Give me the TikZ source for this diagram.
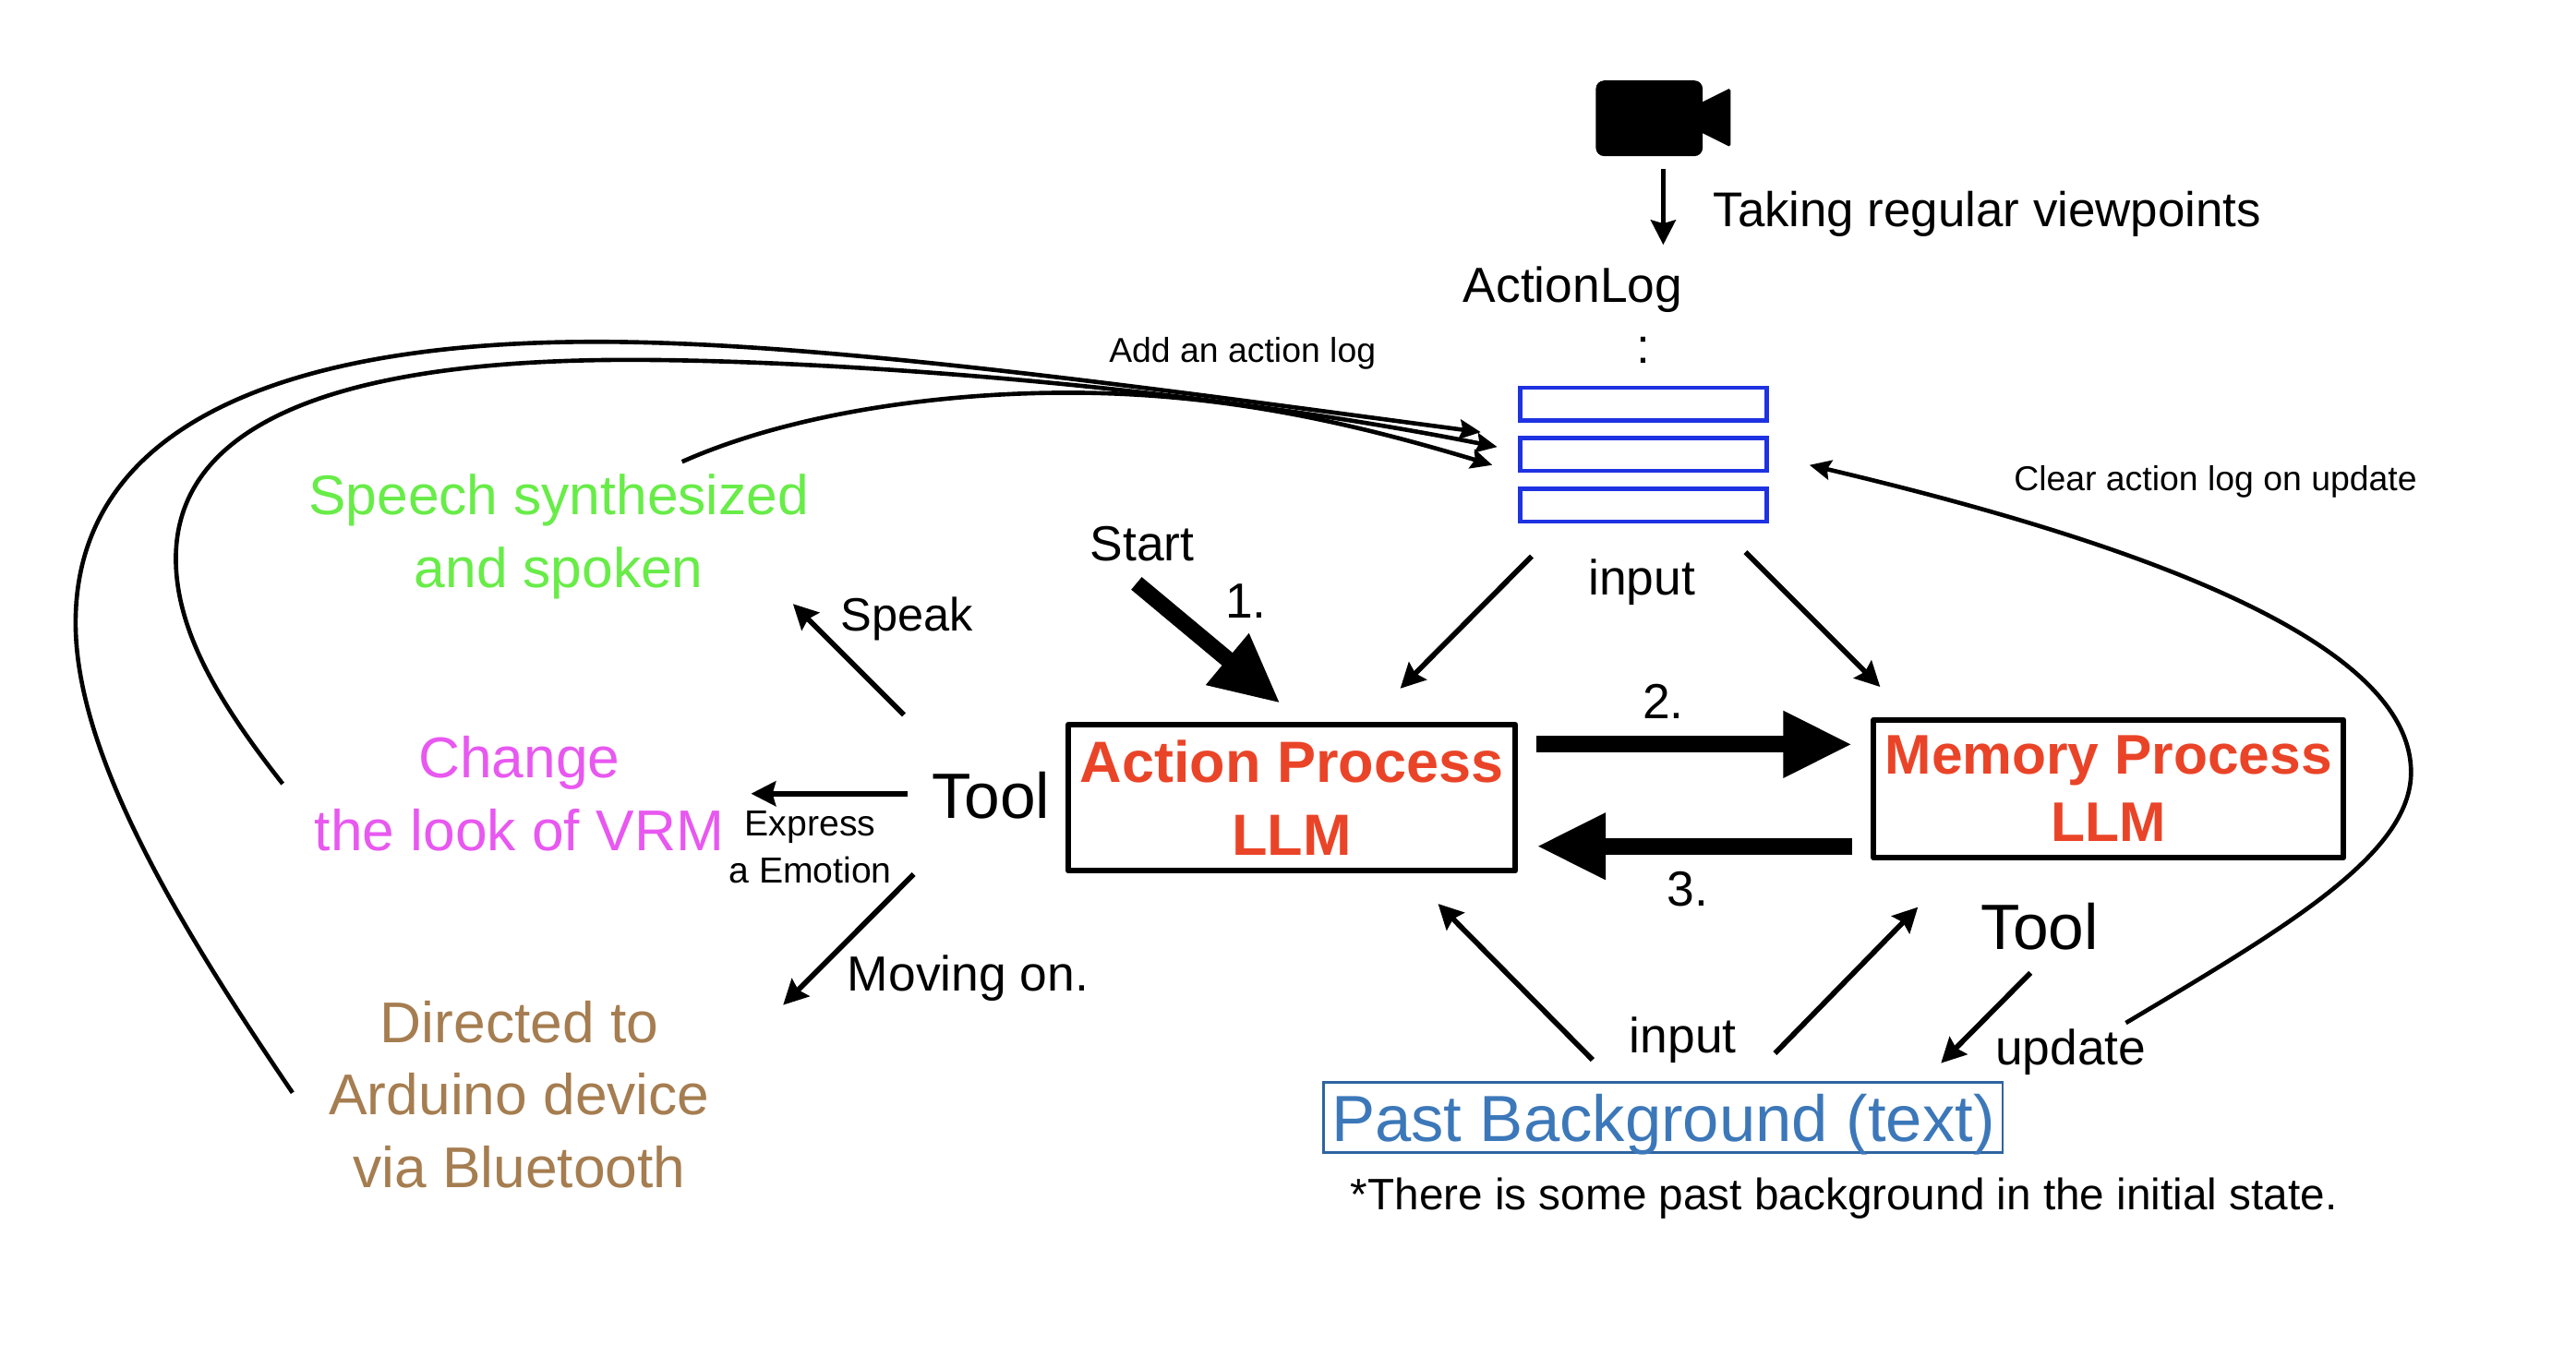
\documentclass[tikz,border=0pt]{standalone}
\usepackage{fontspec}
\setmainfont{Liberation Sans}
\usetikzlibrary{arrows.meta}
\definecolor{speechgreen}{RGB}{104,236,72}
\definecolor{vrmpink}{RGB}{232,88,240}
\definecolor{arduinobrown}{RGB}{165,125,80}
\definecolor{llmred}{RGB}{234,68,40}
\definecolor{logblue}{RGB}{30,50,225}
\definecolor{pastblue}{RGB}{60,120,185}
\definecolor{pastframe}{RGB}{45,100,160}
\tikzset{
	thinarrow/.style={line width=1.6pt, -{Stealth[length=7.5pt, width=7.5pt, inset=1pt]}},
	thickarrow/.style={line width=5pt, -{Triangle[length=21pt, width=19pt]}},
	curvearrow/.style={line width=1.3pt, -{Stealth[length=6.5pt, width=6pt, inset=1pt]}},
	textlabel/.style={inner sep=0pt, align=center, font=\fontsize{15}{22}\selectfont},
	smalllabel/.style={inner sep=0pt, align=center, font=\fontsize{10.5}{14}\selectfont},
	toollabel/.style={inner sep=0pt, font=\fontsize{19.5}{24}\selectfont},
	outcome/.style={inner sep=0pt, align=center, font=\fontsize{17.5}{22}\selectfont},
	llmbox/.style={draw, line width=1.7pt, line join=round, inner sep=0pt, align=center, text=llmred, font=\bfseries\fontsize{17.7}{22}\selectfont},
	logslot/.style={draw=logblue, line width=1.25pt, minimum width=75pt, minimum height=10pt, inner sep=0pt},
}
\begin{document}
\begin{tikzpicture}[x=0.5pt, y=-0.5pt]
	\useasboundingbox (0, 0) rectangle (1567.4, 825.8);

	\node [fill, rounded corners=2.5pt, minimum width=32.5pt, minimum height=23pt, inner sep=0pt] (camera) at (1003.5, 72) {};
	\fill (1036, 62) -- (1052, 54) -- (1053, 55) -- (1053, 88) -- (1052, 89) -- (1036, 81) -- cycle;
	\node [textlabel, anchor=west, font=\fontsize{14.85}{22}\selectfont] (viewpoints) at (1042, 130) {Taking regular viewpoints};
	\node [textlabel] (actionlog) at (957, 176) {ActionLog};
	\node [textlabel] (dots) at (1000, 213) {:};
	\node [logslot] (loga) at (1000, 246) {};
	\node [logslot] (logb) at (1000, 276.5) {};
	\node [logslot] (logc) at (1000, 307.5) {};
	\node [smalllabel] (addlog) at (756, 215) {Add an action log};
	\node [smalllabel] (clearlog) at (1348, 293) {Clear action log on update};
	\node [textlabel] (logInput) at (999, 354.5) {input};
	\node [textlabel] (start) at (695, 331) {Start};
	\node [textlabel] (one) at (758, 366) {1.};
	\node [textlabel] (two) at (1012, 427) {2.};
	\node [textlabel] (three) at (1027, 541) {3.};

	\node [llmbox, minimum width=136pt, minimum height=44.5pt] (action) at (786, 485.5) {Action Process\\LLM};
	\node [llmbox, minimum width=143pt, minimum height=42pt, font=\bfseries\fontsize{17}{20.5}\selectfont] (memory) at (1283, 480) {Memory Process\\LLM};

	\node [toollabel] (toolleft) at (603, 484) {Tool};
	\node [toollabel] (toolright) at (1241, 564) {Tool};
	\node [textlabel, font=\fontsize{14.2}{22}\selectfont] (speak) at (552, 376.5) {Speak};
	\node [smalllabel, font=\fontsize{11}{14}\selectfont] (express) at (493, 515.5) {Express\\[0.5pt]a Emotion};
	\node [textlabel] (moving) at (589, 595.5) {Moving on.};
	\node [outcome, text=speechgreen, font=\fontsize{17}{22}\selectfont] (speech) at (340, 326.5) {Speech synthesized\\and spoken};
	\node [outcome, text=vrmpink] (change) at (316, 483) {Change\\the look of VRM};
	\node [outcome, text=arduinobrown] (arduino) at (316, 666) {Directed to\\Arduino device\\via Bluetooth};

	\node [textlabel] (pastInput) at (1024, 633) {input};
	\node [textlabel] (update) at (1260, 640) {update};
	\node [draw=pastframe, line width=0.75pt, inner sep=0pt, minimum width=206.5pt, minimum height=21.5pt, text height=14.6pt, text depth=0pt, text=pastblue, font=\fontsize{19.85}{24}\selectfont] (past) at (1012, 680) {Past Background (text)};
	\node [textlabel, font=\fontsize{13.4}{20}\selectfont] (note) at (1122, 729.5) {*There is some past background in the initial state.};

	\draw [thinarrow] ([shift={(8.5, 31)}]camera.center) -- ([shift={(55, -27)}]actionlog.center);
	\draw [thinarrow] ([shift={(-68, 31)}]logc.center) -- ([shift={(66, -66.5)}]action.center);
	\draw [thinarrow] ([shift={(62, 28.5)}]logc.center) -- ([shift={(-139, -62)}]memory.center);
	\draw [thickarrow] ([shift={(-3.5, 24)}]start.center) -- ([shift={(-7, -57.5)}]action.center);
	\draw [thickarrow] ([shift={(149, -32.5)}]action.center) -- ([shift={(-156, -27)}]memory.center);
	\draw [thickarrow] ([shift={(-156, 35)}]memory.center) -- ([shift={(149, 29.5)}]action.center);
	\draw [thinarrow] ([shift={(-43, -35)}]past.center) -- ([shift={(89, 64.5)}]action.center);
	\draw [thinarrow] ([shift={(68, -39)}]past.center) -- ([shift={(-116, 72)}]memory.center);
	\draw [thinarrow] ([shift={(-5.5, 28)}]toolright.center) -- ([shift={(169, -33)}]past.center);
	\draw [thinarrow] ([shift={(-53, -49)}]toolleft.center) -- ([shift={(142.5, 41)}]speech.center);
	\draw [thinarrow] ([shift={(-51, -1)}]toolleft.center) -- ([shift={(141, 0)}]change.center);
	\draw [thinarrow] ([shift={(-47, 48)}]toolleft.center) -- ([shift={(160.5, -54.4)}]arduino.center);

	\draw [curvearrow] ([shift={(75, -45.5)}]speech.center) .. controls (480, 252) and (570, 239) .. (650, 239) .. controls (745, 239) and (825, 258) .. ([shift={(-92, 6.5)}]logb.center);
	\draw [curvearrow] ([shift={(-144, -6)}]change.center) .. controls (135, 430) and (107, 385) .. (107, 340) .. controls (107, 260) and (200, 219) .. (383, 219) .. controls (500, 219) and (720, 234) .. ([shift={(-89, -4.5)}]logb.center);
	\draw [curvearrow] ([shift={(-138, -1)}]arduino.center) .. controls (110, 565) and (46, 460) .. (46, 379) .. controls (46, 260) and (170, 208) .. (363, 208) .. controls (500, 208) and (701, 236.4) .. ([shift={(-99, 17)}]loga.center);
	\draw [curvearrow] ([shift={(33.5, -17.5)}]update.center) .. controls (1390, 565) and (1467, 520) .. (1467, 470) .. controls (1467, 390) and (1300, 330) .. ([shift={(101, 6.5)}]logb.center);
\end{tikzpicture}
\end{document}
